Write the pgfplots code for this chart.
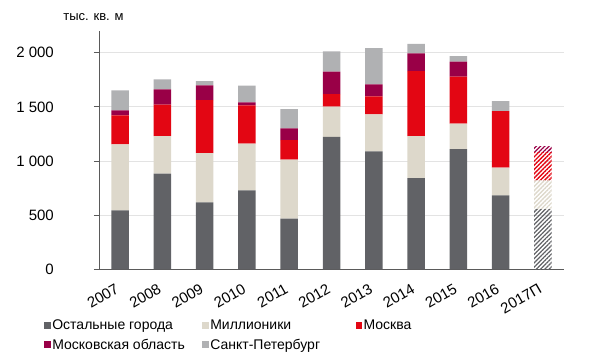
\documentclass[border=0pt]{standalone}
\usepackage{fontspec}
\setmainfont{Liberation Sans}
\usepackage{pgfplots}
\pgfplotsset{compat=1.18}
\usetikzlibrary{patterns.meta}
\definecolor{cDark}{HTML}{616266}
\definecolor{cBeige}{HTML}{DDD8CB}
\definecolor{cRed}{HTML}{E30613}
\definecolor{cMaroon}{HTML}{990047}
\definecolor{cLight}{HTML}{B0B1B3}
\definecolor{cAxis}{HTML}{5A5A5A}
\definecolor{cGrid}{HTML}{E3E3E3}
\begin{document}
\begin{tikzpicture}
\path[use as bounding box] (0,0) rectangle (600pt,360pt);
\node[font=\fontsize{13}{15}\selectfont] at (93.5pt,343pt) {тыс. кв. м};
\begin{axis}[
  at={(99pt,90.7pt)}, anchor=south west,
  scale only axis, width=465pt, height=238.2pt,
  ybar stacked, bar width=17.5pt,
  xmin=-0.5, xmax=10.5, ymin=0, ymax=2200,
  axis lines*=left,
  axis line style={cAxis, line width=0.8pt},
  xtick={0,...,10},
  xticklabels={2007,2008,2009,2010,2011,2012,2013,2014,2015,2016,2017П},
  xtick style={draw=none},
  minor xtick={-0.5,0.5,...,10.5},
  minor tick length=5pt,
  minor tick style={cAxis, line width=0.8pt},
  xticklabel style={xshift=-5pt, yshift=-7pt, rotate=30, anchor=north east, inner sep=1pt},
  ytick={0,500,1000,1500,2000},
  yticklabels={0,500,1 000,1 500,2 000},
  ytick style={cAxis, line width=0.8pt},
  major tick length=5pt,
  tick align=outside,
  ymajorgrids, grid style={cGrid, line width=0.8pt},
  ticklabel style={font=\fontsize{15}{17}\selectfont},
  yticklabel style={anchor=east, inner sep=0pt, xshift=-40pt},
  /pgf/number format/assume math mode=true,
  legend columns=3,
  legend style={draw=none, fill=none, inner sep=0pt, at={(-0.118,-0.205)}, anchor=north west,
    font=\fontsize{14}{16}\selectfont, row sep=5pt,
    nodes={inner sep=1.5pt},
    /tikz/column 2/.style={column sep=16pt},
    /tikz/column 4/.style={column sep=34pt}},
  legend cell align=left,
  legend image code/.code={\path[#1,draw=none] (0pt,-3.5pt) rectangle (6.5pt,3.5pt);},
]
\addplot[fill=cDark, draw=none] coordinates {(0,545) (1,883) (2,619) (3,729) (4,467) (5,1222) (6,1090) (7,843) (8,1111) (9,683) (10,0)};
\addplot[fill=cBeige, draw=none] coordinates {(0,609) (1,348) (2,455) (3,431) (4,545) (5,280) (6,341) (7,388) (8,234) (9,255) (10,0)};
\addplot[fill=cRed, draw=none] coordinates {(0,268) (1,289) (2,489) (3,354) (4,182) (5,117) (6,166) (7,600) (8,434) (9,524) (10,0)};
\addplot[fill=cMaroon, draw=none] coordinates {(0,46) (1,142) (2,136) (3,28) (4,108) (5,206) (6,111) (7,163) (8,138) (9,0) (10,0)};
\addplot[fill=cLight, draw=none] coordinates {(0,185) (1,92) (2,40) (3,154) (4,178) (5,188) (6,335) (7,89) (8,53) (9,92) (10,0)};
\addplot[draw=none, pattern={Lines[angle=45,distance=3pt,line width=1.3pt]}, pattern color=cDark] coordinates {(0,0) (1,0) (2,0) (3,0) (4,0) (5,0) (6,0) (7,0) (8,0) (9,0) (10,550)};
\addplot[draw=none, pattern={Lines[angle=45,distance=3pt,line width=1.3pt]}, pattern color=cBeige] coordinates {(0,0) (1,0) (2,0) (3,0) (4,0) (5,0) (6,0) (7,0) (8,0) (9,0) (10,268)};
\addplot[draw=none, pattern={Lines[angle=45,distance=3pt,line width=1.3pt]}, pattern color=cRed] coordinates {(0,0) (1,0) (2,0) (3,0) (4,0) (5,0) (6,0) (7,0) (8,0) (9,0) (10,257)};
\addplot[draw=none, pattern={Lines[angle=45,distance=3pt,line width=1.3pt]}, pattern color=cMaroon] coordinates {(0,0) (1,0) (2,0) (3,0) (4,0) (5,0) (6,0) (7,0) (8,0) (9,0) (10,63)};
\legend{Остальные города, Миллионики, Москва, Московская область, Санкт-Петербург}
\end{axis}
\end{tikzpicture}
\end{document}
